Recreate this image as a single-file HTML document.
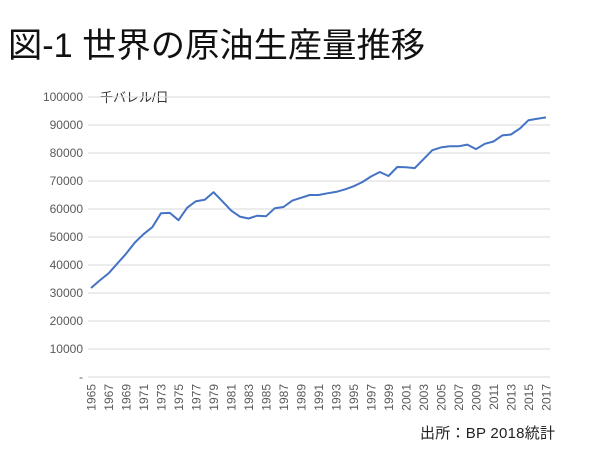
<!DOCTYPE html>
<html><head><meta charset="utf-8"><style>
body{margin:0;background:#fff;width:600px;height:450px;overflow:hidden;font-family:"Liberation Sans","Noto Sans CJK JP",sans-serif}
</style></head><body>
<svg width="600" height="450" xmlns="http://www.w3.org/2000/svg" id="s">
<text x="8" y="57" font-size="34" fill="#111" font-family="Liberation Sans,Noto Sans CJK JP,sans-serif" textLength="417" lengthAdjust="spacingAndGlyphs">図-1 世界の原油生産量推移</text>
<text x="100" y="102" font-size="13" fill="#333" font-family="Liberation Sans,Noto Sans CJK JP,sans-serif">千バレル/日</text>
<text x="420" y="438" font-size="15" fill="#222" font-family="Liberation Sans,Noto Sans CJK JP,sans-serif" textLength="135">出所：BP 2018統計</text>
<g id="g"></g>
</svg>
<script>
var g=document.getElementById('g'),h='';
for(var i=0;i<=10;i++){var y=377-i*28;
h+='<line x1="88" x2="550" y1="'+y+'" y2="'+y+'" stroke="#d9d9d9" stroke-width="1"/>';
h+='<text x="83" y="'+(y+4)+'" font-size="12" fill="#595959" text-anchor="end">'+(i?i*10000:'-')+'</text>';}
for(var yr=1965;yr<=2017;yr+=2){var x=91+(yr-1965)*8.75;
h+='<text transform="translate('+(x+4.5)+',384) rotate(-90)" font-size="12" fill="#595959" text-anchor="end">'+yr+'</text>';}
var d=[31.8,34.5,37,40.5,44,48,51,53.5,58.5,58.6,56,60.5,62.8,63.3,66,62.8,59.5,57.3,56.6,57.6,57.4,60.3,60.7,63,64,65,65,65.6,66.1,67,68.1,69.6,71.6,73.2,71.8,75,74.9,74.6,77.8,81,82,82.4,82.4,83,81.4,83.3,84.1,86.3,86.6,88.7,91.7,92.2,92.7];
var p=d.map(function(v,i){return (91+i*8.75).toFixed(1)+','+(377-v*2.8).toFixed(1)}).join(' ');
h+='<polyline points="'+p+'" fill="none" stroke="#4472c4" stroke-width="2" stroke-linejoin="round"/>';
g.innerHTML=h;
</script>
</body></html>
